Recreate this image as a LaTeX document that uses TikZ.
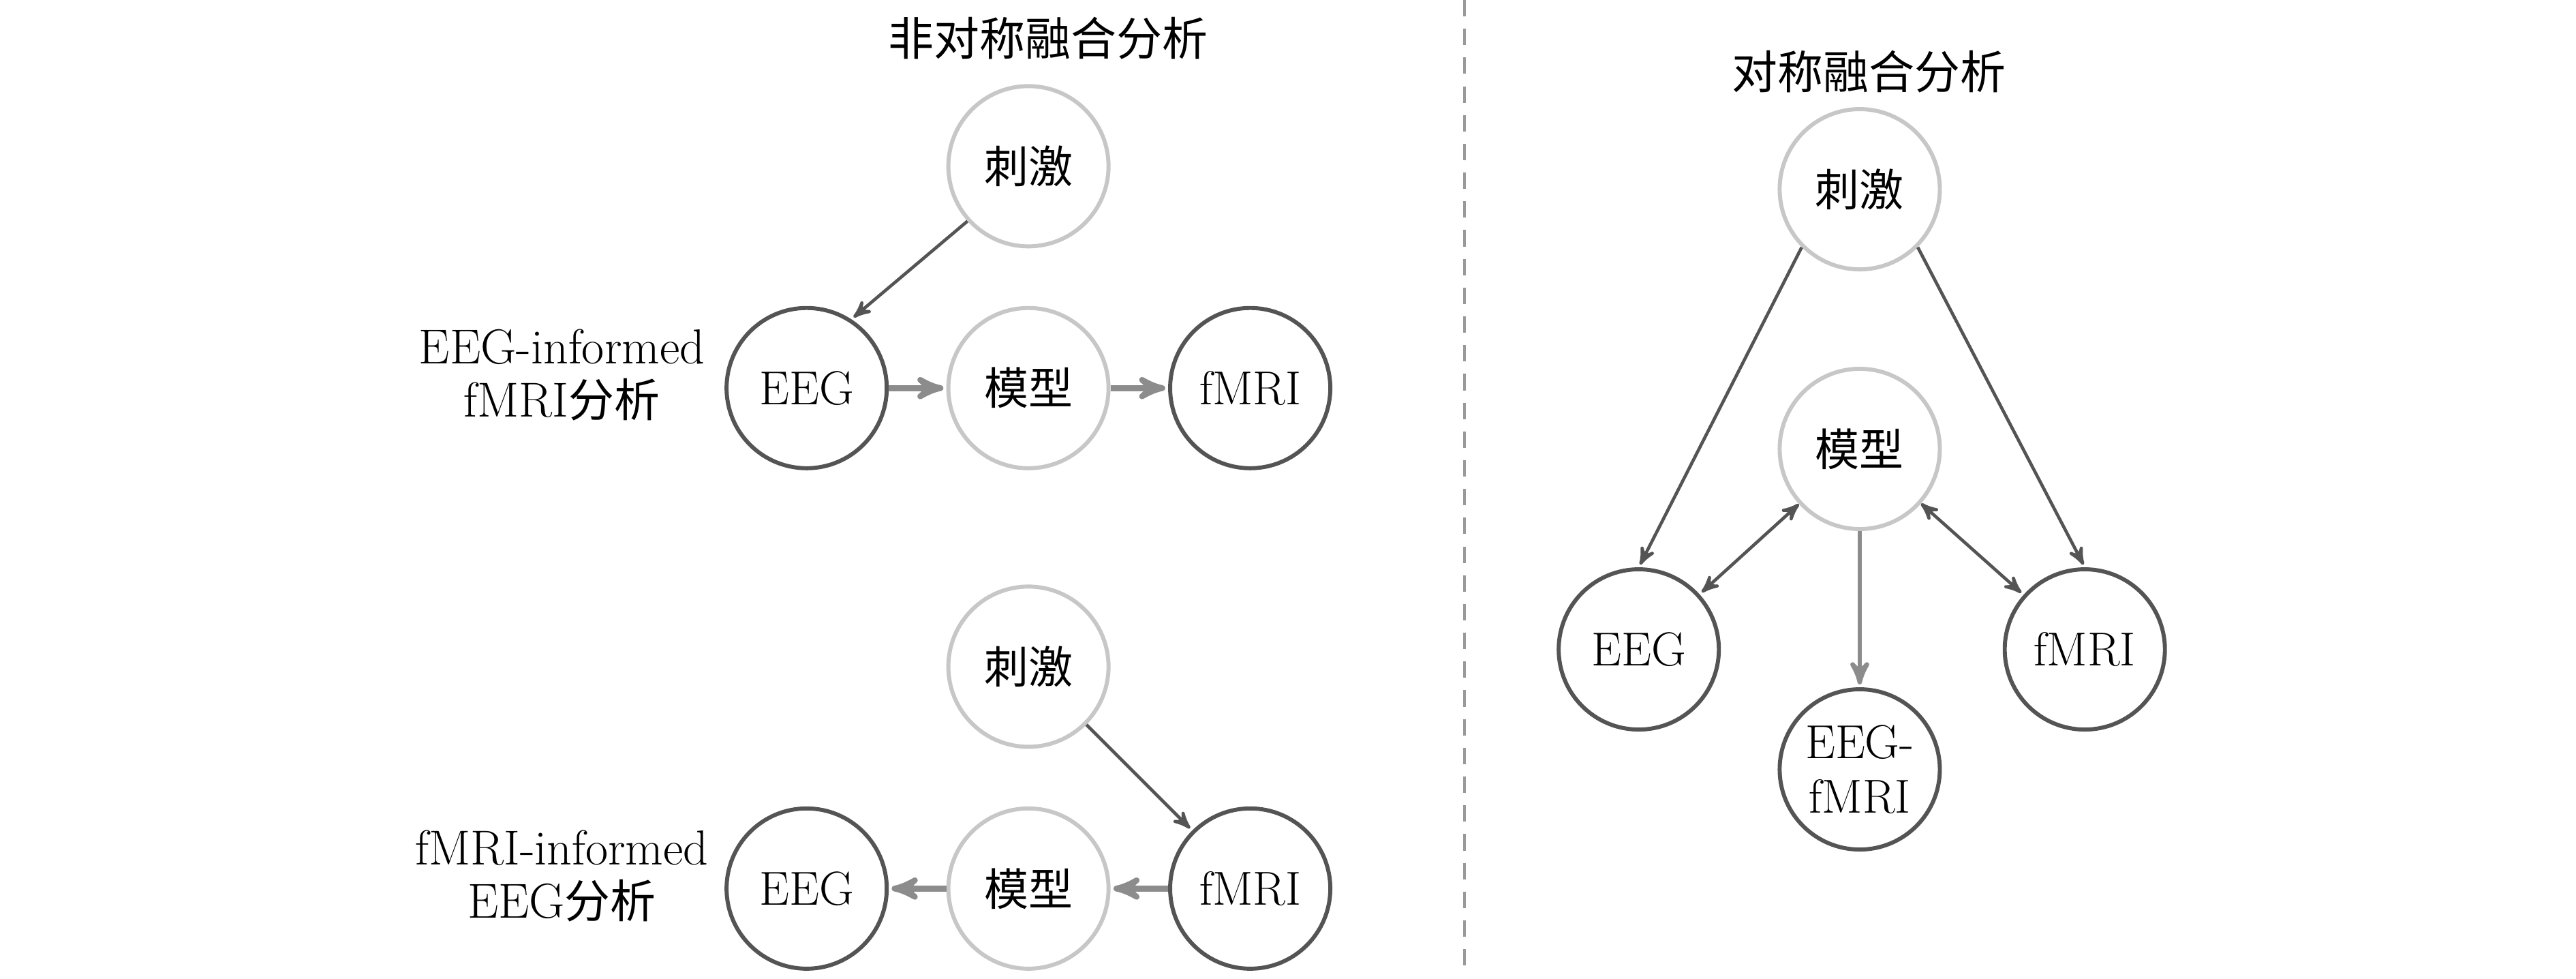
\documentclass[tikz,border=0pt]{standalone}
\usepackage{fontspec}
\newfontfamily\cjk{Noto Sans CJK SC}[Scale=0.93]
\usetikzlibrary{arrows,positioning}
\definecolor{lightc}{gray}{0.78}
\definecolor{darkc}{gray}{0.33}
\definecolor{flowc}{gray}{0.55}
\definecolor{dashc}{gray}{0.6}

\begin{document}
\begin{tikzpicture}[->, >=stealth', shorten >=1pt, auto, node distance=2.7cm, thick,
    base node/.style={circle, minimum size=1.95cm, inner sep=0pt, line width=1.4pt, fill=white, font=\fontsize{16.5}{19}\selectfont, align=center},
    light node/.style={base node, draw=lightc},
    dark node/.style={base node, draw=darkc},
    label text/.style={font=\fontsize{17}{18.5}\selectfont, align=center},
    link/.style={line width=1.1pt, draw=darkc},
    flow/.style={line width=2pt, draw=flowc}]
        \useasboundingbox (0,0) rectangle (31.36,11.913);

        % Asymmetric: EEG-informed fMRI
        \node[label text] (t1) at (12.76,11.45) {\cjk 非对称融合分析};
        \node[light node] (s1) at (12.52,9.89) {\cjk 刺激};
        \node[light node] (m1) [below of=s1] {\cjk 模型};
        \node[dark node] (e1) [left of=m1] {EEG};
        \node[dark node] (f1) [right of=m1] {fMRI};
        \node[label text] (l1) at (6.84,7.35) {EEG-informed\\fMRI{\cjk 分析}};

        \path
        (s1.222) edge[link] (e1.57)
        (e1) edge[flow] (m1)
        (m1) edge[flow] (f1);

        % Asymmetric: fMRI-informed EEG
        \node[light node] (s2) at (12.52,3.80) {\cjk 刺激};
        \node[light node] (m2) [below of=s2] {\cjk 模型};
        \node[dark node] (e2) [left of=m2] {EEG};
        \node[dark node] (f2) [right of=m2] {fMRI};
        \node[label text] (l2) at (6.84,1.25) {fMRI-informed\\EEG{\cjk 分析}};

        \path
        (s2) edge[link] (f2)
        (f2) edge[flow] (m2)
        (m2) edge[flow] (e2);

        % Divider
        \coordinate (dtop) at (17.83,11.913);
        \coordinate (dbot) at (17.83,0);
        \draw[-, draw=dashc, line width=1pt, dash pattern=on 0.2cm off 0.15cm] (dtop) -- (dbot);

        % Symmetric
        \node[label text] (t2) at (22.75,11.04) {\cjk 对称融合分析};
        \node[light node] (rs) at (22.64,9.61) {\cjk 刺激};
        \node[light node] (rm) at (22.64,6.45) {\cjk 模型};
        \node[dark node] (re) at (19.95,4.01) {EEG};
        \node[dark node] (rf) at (25.38,4.01) {fMRI};
        \node[dark node] (rj) at (22.64,2.55) {EEG-\\fMRI};

        \path
        (rs.225) edge[link] (re.north)
        (rs.-45) edge[link] (rf.north)
        (rm) edge[link, <->] (re)
             edge[link, <->] (rf)
             edge[flow, line width=1.6pt] (rj);
\end{tikzpicture}
\end{document}
